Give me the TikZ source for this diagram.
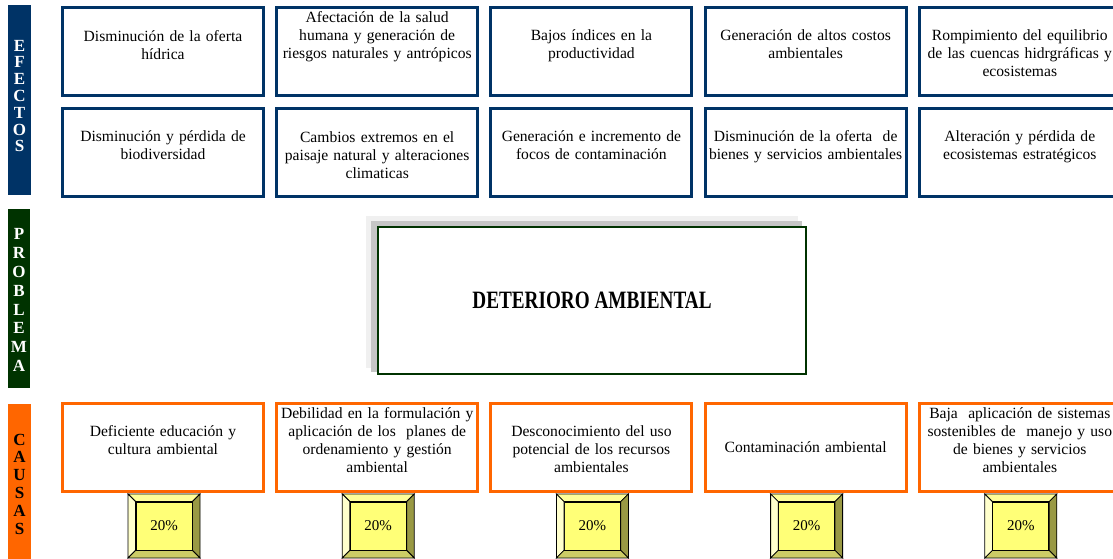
\documentclass[tikz,border=0pt]{standalone}
\usepackage{fontspec}
\setmainfont{Liberation Serif}
\definecolor{navy}{RGB}{0,51,102}
\definecolor{dgreen}{RGB}{0,51,0}
\definecolor{orng}{RGB}{255,102,0}
\definecolor{bvtop}{RGB}{255,255,153}
\definecolor{bvleft}{RGB}{255,255,204}
\definecolor{bvright}{RGB}{153,153,68}
\definecolor{bvbot}{RGB}{204,204,102}
\definecolor{bvface}{RGB}{255,255,119}
\tikzset{
  effbox/.style={draw=navy, line width=3pt, fill=white, minimum width=201pt, minimum height=88pt, inner sep=0pt},
  caubox/.style={draw=orng, line width=3pt, fill=white, minimum width=201pt, minimum height=88pt, inner sep=0pt},
  probbox/.style={draw=dgreen, line width=2.5pt, fill=white, minimum width=428pt, minimum height=147pt, inner sep=0pt},
  txt/.style={anchor=north, text width=205pt, align=center, inner sep=0pt, font=\fontsize{15.6}{18}\selectfont},
  sidebar/.style={minimum width=23pt, inner sep=0pt, text=white, align=center},
  face/.style={draw=black, line width=0.8pt, fill=bvface, minimum width=56pt, minimum height=48pt, inner sep=0pt, font=\fontsize{15}{16}\selectfont},
  bevel/.style={draw=black, line width=0.8pt}
}
\newcommand{\st}{\rule{0pt}{13pt}}
\begin{document}
\begin{tikzpicture}[x=1pt,y=-1pt]
\useasboundingbox (0,0) rectangle (1113,558);
\clip (0,0) rectangle (1113,558);
% side bars
\node[sidebar, fill=navy, minimum height=190pt] (barE) at (19.5,100) {};
\node[sidebar, font=\bfseries\fontsize{17}{16.8}\selectfont] (lblE) at (19.5,96) {E\\F\\E\\C\\T\\O\\S};
\node[sidebar, fill=dgreen, minimum width=22pt, minimum height=179pt] (barP) at (19,298.5) {};
\node[sidebar, font=\bfseries\fontsize{17}{18.9}\selectfont] (lblP) at (19,300) {P\\R\\O\\B\\L\\E\\M\\A};
\node[sidebar, fill=orng, minimum height=160pt] (barC) at (19.5,484) {};
\node[sidebar, text=black, font=\bfseries\fontsize{17}{17.8}\selectfont] (lblC) at (19.5,484) {C\\A\\U\\S\\A\\S};
% boxes
\foreach \i in {1,...,5} {
  \node[effbox] (ea\i) at ({163+214.2*(\i-1)},51.5) {};
  \node[effbox] (eb\i) at ({163+214.2*(\i-1)},152) {};
  \node[caubox] (c\i) at ({163+214.2*(\i-1)},447.5) {};
}
\node[txt] (tea1) at (163,28) {\st Disminución de la oferta\\hídrica};
\node[txt] (tea2) at (377.2,9) {\st Afectación de la salud\\humana y generación de\\riesgos naturales y antrópicos};
\node[txt] (tea3) at (591.4,27) {\st Bajos índices en la\\productividad};
\node[txt] (tea4) at (805.6,27) {\st Generación de altos costos\\ambientales};
\node[txt] (tea5) at (1019.8,27) {\st Rompimiento del equilibrio\\de las cuencas hidrgráficas y\\ecosistemas};
\node[txt] (teb1) at (163,128) {\st Disminución y pérdida de\\biodiversidad};
\node[txt] (teb2) at (377.2,129) {\st Cambios extremos en el\\paisaje natural y alteraciones\\climaticas};
\node[txt] (teb3) at (591.4,128) {\st Generación e incremento de\\focos de contaminación};
\node[txt] (teb4) at (805.6,128) {\st Disminución de la oferta\ \ de\\bienes y servicios ambientales};
\node[txt] (teb5) at (1019.8,128) {\st Alteración y pérdida de\\ecosistemas estratégicos};
% causes
\node[txt] (tc1) at (163,423) {\st Deficiente educación y\\cultura ambiental};
\node[txt] (tc2) at (377.2,405) {\st Debilidad en la formulación y\\aplicación de los\ \ planes de\\ordenamiento y gestión\\ambiental};
\node[txt] (tc3) at (591.4,423) {\st Desconocimiento del uso\\potencial de los recursos\\ambientales};
\node[txt] (tc4) at (805.6,439) {\st Contaminación ambiental};
\node[txt] (tc5) at (1019.8,405) {\st Baja\ \ aplicación de sistemas\\sostenibles de\ \ manejo y uso\\de bienes y servicios\\ambientales};
% problem
\fill[gray!12] (366,216) rectangle (798,368);
\fill[gray!45] (371,221) rectangle (802,372);
\node[probbox] (prob) at (592,300.5) {};
\node[inner sep=0pt] (probt) at (592,300) {\scalebox{1}[1.3]{\bfseries\fontsize{19.2}{20}\selectfont DETERIORO AMBIENTAL}};
% bevel boxes
\foreach \i in {1,...,5} {
  \pgfmathsetmacro{\cx}{164+214.2*(\i-1)}
  \coordinate (o\i nw) at (\cx-36,494);
  \coordinate (o\i ne) at (\cx+36,494);
  \coordinate (o\i sw) at (\cx-36,558);
  \coordinate (o\i se) at (\cx+36,558);
  \node[face] (p\i) at (\cx,526) {20\%};
  \filldraw[bevel, fill=bvtop] (o\i nw) -- (o\i ne) -- (p\i.north east) -- (p\i.north west) -- cycle;
  \filldraw[bevel, fill=bvleft] (o\i nw) -- (p\i.north west) -- (p\i.south west) -- (o\i sw) -- cycle;
  \filldraw[bevel, fill=bvright] (o\i ne) -- (o\i se) -- (p\i.south east) -- (p\i.north east) -- cycle;
  \filldraw[bevel, fill=bvbot] (o\i sw) -- (p\i.south west) -- (p\i.south east) -- (o\i se) -- cycle;
}
\end{tikzpicture}
\end{document}
